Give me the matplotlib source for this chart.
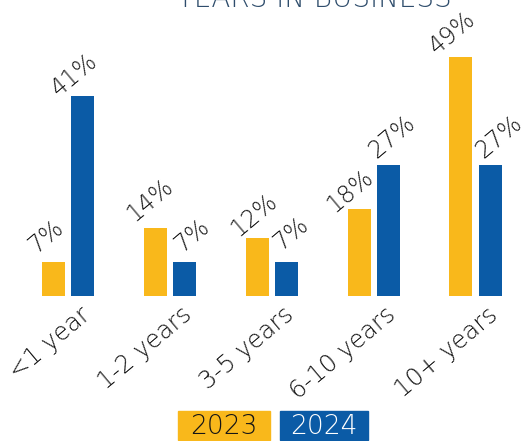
import matplotlib
matplotlib.use('Agg')
import matplotlib.pyplot as plt
from matplotlib.patches import Rectangle
from matplotlib.transforms import ScaledTranslation

# years in business, share of respondents (%)
categories = ['<1 year', '1-2 years', '3-5 years', '6-10 years', '10+ years']
years = ['2023', '2024']
share_2023 = [7, 14, 12, 18, 49]
share_2024 = [41, 7, 7, 27, 27]

# pixel nudges for the value labels (centre of text from top of bar)
nudge_2023 = [(-8, 26), (-6, 28), (-3, 23), (-9, 18), (-9, 25)]
nudge_2024 = [(-8, 22), (7, 27), (5, 29), (4, 28), (9, 28)]

YELLOW = '#F9B81B'
BLUE = '#0B5BA6'
INK = '#151515'
TITLE = '#2f4d6c'

plt.rcParams['font.family'] = ['DejaVu Sans']
W, H = 532, 441
fig = plt.figure(figsize=(W / 100, H / 100), dpi=100)
ax = fig.add_axes([0, 0.3277, 1, 0.6723])

width = 0.226
off = 0.143
xs = range(len(categories))
for vals, nudges, color, shift in ((share_2023, nudge_2023, YELLOW, -off), (share_2024, nudge_2024, BLUE, off)):
	bars = ax.bar([x + shift for x in xs], vals, width, color=color)
	for b, v, n in zip(bars, vals, nudges):
		ax.annotate('%d%%' % v, (b.get_x() + b.get_width() / 2, v),
			xytext=n, textcoords='offset pixels', ha='center', va='center',
			rotation=40, rotation_mode='anchor', fontsize=17, fontweight=200, color=INK)

ax.set_xlim(-0.671, 4.555)
ax.set_ylim(0, 60.76)
for s in ax.spines.values():
	s.set_visible(False)
ax.set_yticks([])
ax.set_xticks(list(xs), categories, rotation=40, ha='right', va='center',
	rotation_mode='anchor', fontsize=17.5, fontweight=200, color=INK)
ax.tick_params(axis='x', length=0, pad=11)
shift = ScaledTranslation(0.19, 0, fig.dpi_scale_trans)
for lab in ax.get_xticklabels():
	lab.set_transform(lab.get_transform() + shift)

fig.text(314 / W, 1 - 7.3 / H, 'YEARS IN BUSINESS', ha='center', va='baseline',
	fontsize=20, fontweight=200, color=TITLE)

# colour key boxes under the chart
for (x0, x1), yr, fc, tc in (((178.3, 270), years[0], YELLOW, INK), ((280, 368.3), years[1], BLUE, 'white')):
	fig.patches.append(Rectangle((x0 / W, 1 - 439.5 / H), (x1 - x0) / W, 28.8 / H,
		transform=fig.transFigure, color=fc))
	fig.text((x0 + x1) / 2 / W, 1 - 426.7 / H, yr, ha='center', va='center',
		fontsize=19, fontweight=200, color=tc)

fig.savefig('out.png', dpi=100)
